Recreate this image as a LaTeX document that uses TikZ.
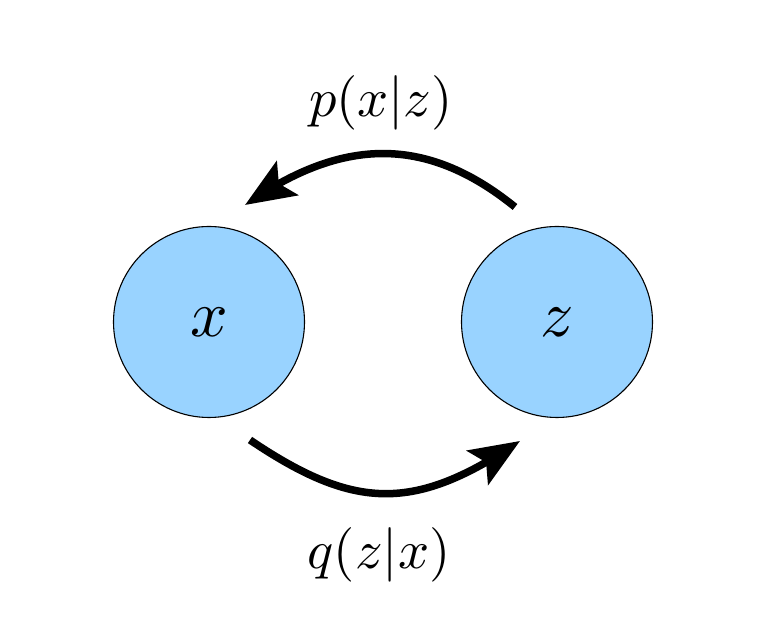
\documentclass[tikz,border=0pt]{standalone}
\usepackage{graphicx}
\usetikzlibrary{arrows.meta,bending}
\definecolor{nodeblue}{RGB}{153,211,255}
\newcommand{\myscaledmath}[2]{\scalebox{#1}{$#2$}}
\begin{document}
\begin{tikzpicture}[x=1pt,y=1pt,
  var/.style={circle,draw=black,line width=1.1pt,fill=nodeblue,minimum size=191pt,inner sep=0pt},
  lbl/.style={inner sep=0pt},
  arr/.style={line width=7.5pt,-{Stealth[length=50pt,width=40pt,inset=10pt,flex]}}]
\useasboundingbox (0,0) rectangle (772,634);
\node[var] (x) at (209,312) {\myscaledmath{6.6}{x}};
\node[var] (z) at (557,312) {\myscaledmath{6.6}{z}};
\coordinate (ztop) at ([shift={(-42,115)}]z.center);
\coordinate (xtop) at ([shift={(36,117)}]x.center);
\coordinate (xbot) at ([shift={(41,-118)}]x.center);
\coordinate (zbot) at ([shift={(-37,-119)}]z.center);
\draw[arr] (ztop) to[out=141,in=35,looseness=1.1] (xtop);
\draw[arr] (xbot) to[out=-34,in=214,looseness=1.2] (zbot);
\node[lbl] (p) at (381,531) {\myscaledmath{5.45}{p(x|z)}};
\node[lbl] (q) at (379,79) {\myscaledmath{5.45}{q(z|x)}};
\end{tikzpicture}
\end{document}
